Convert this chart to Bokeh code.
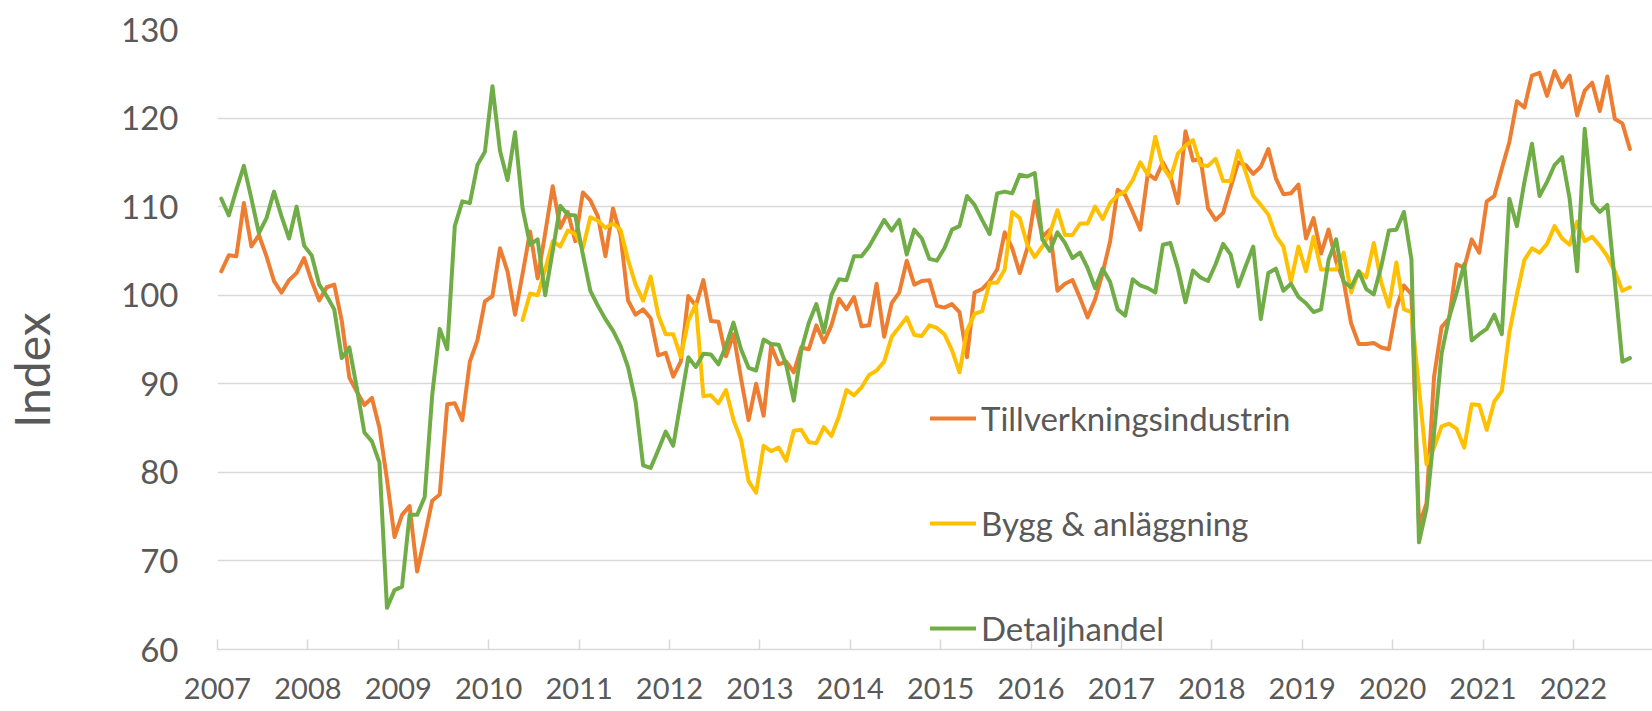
from math import nan
from bokeh.plotting import figure
from bokeh.models import FixedTicker, Legend, LegendItem, Range1d
from bokeh.embed import file_html
from bokeh.resources import INLINE

# Tick labels (one per January, 2007..2022)
years = [str(y) for y in range(2007, 2023)]
y_ticks = [60, 70, 80, 90, 100, 110, 120, 130]

# Monthly index values, Jan 2007 .. Aug 2022
tillverkning = [
    102.7, 104.5, 104.4, 110.4, 105.5, 106.8, 104.4, 101.6, 100.3, 101.7, 102.5, 104.2,
    101.6, 99.4, 100.9, 101.2, 97.1, 90.7, 89.1, 87.6, 88.4, 85.0, 79.2, 72.7,
    75.2, 76.2, 68.8, 72.7, 76.8, 77.5, 87.7, 87.8, 85.9, 92.5, 94.9, 99.3,
    99.9, 105.3, 102.7, 97.8, 102.4, 107.2, 101.9, 107.0, 112.3, 107.6, 109.4, 106.1,
    111.6, 110.7, 108.9, 104.4, 109.8, 106.8, 99.4, 97.8, 98.4, 97.4, 93.2, 93.5,
    90.8, 92.5, 99.9, 98.8, 101.7, 97.1, 97.0, 93.1, 95.6, 90.6, 85.9, 90.0,
    86.4, 94.3, 92.2, 92.5, 91.3, 94.1, 93.9, 96.6, 94.7, 96.6, 99.6, 98.4,
    99.8, 96.5, 96.6, 101.3, 95.3, 99.1, 100.3, 103.9, 101.2, 101.6, 101.7, 98.8,
    98.6, 99.0, 98.1, 93.0, 100.3, 100.7, 101.6, 102.9, 107.1, 105.3, 102.5, 105.3,
    110.6, 106.6, 107.4, 100.5, 101.3, 101.7, 99.7, 97.5, 99.5, 102.5, 106.1, 111.9,
    111.3, 109.4, 107.4, 113.7, 113.1, 115.0, 113.4, 110.4, 118.5, 115.2, 115.4, 109.8,
    108.5, 109.3, 112.2, 115.0, 114.7, 113.7, 114.5, 116.5, 113.2, 111.4, 111.5, 112.5,
    106.4, 108.7, 104.7, 107.4, 103.8, 101.6, 96.8, 94.5, 94.5, 94.6, 94.1, 93.9,
    98.6, 101.1, 100.1, 74.0, 76.5, 90.8, 96.4, 97.4, 103.5, 103.1, 106.3, 104.8,
    110.6, 111.2, 114.3, 117.3, 121.9, 121.2, 124.8, 125.1, 122.5, 125.3, 123.5, 124.8,
    120.3, 123.1, 124.0, 120.8, 124.7, 119.9, 119.4, 116.5,
]

bygg = [None] * 40 + [
    97.2, 100.2, 100.0, 102.9, 106.1, 105.5, 107.3, 106.9,
    105.3, 108.8, 108.4, 107.6, 108.1, 107.4, 104.0, 101.2, 99.4, 102.1, 97.8, 95.6,
    95.6, 93.0, 97.1, 99.0, 88.6, 88.7, 87.8, 89.3, 85.9, 83.7, 79.0, 77.7,
    83.0, 82.4, 82.8, 81.3, 84.7, 84.8, 83.4, 83.3, 85.1, 84.1, 86.3, 89.3,
    88.7, 89.6, 91.0, 91.5, 92.5, 95.3, 96.4, 97.5, 95.5, 95.4, 96.6, 96.3,
    95.6, 93.8, 91.3, 96.0, 97.9, 98.2, 101.4, 101.4, 102.9, 109.4, 108.7, 105.7,
    104.3, 105.5, 107.0, 109.6, 106.8, 106.8, 108.1, 108.1, 110.0, 108.6, 110.4, 111.3,
    111.7, 113.0, 115.0, 113.6, 117.9, 114.5, 113.2, 116.0, 116.9, 117.5, 114.7, 114.6,
    115.4, 112.9, 112.9, 116.3, 113.9, 111.2, 110.2, 109.1, 106.7, 105.5, 101.5, 105.5,
    102.7, 106.6, 102.9, 102.9, 102.9, 104.8, 100.3, 102.7, 102.0, 105.9, 101.4, 98.7,
    103.7, 98.4, 98.1, 89.5, 80.9, 82.8, 85.2, 85.5, 84.9, 82.8, 87.7, 87.6,
    84.8, 88.0, 89.2, 95.8, 100.1, 104.0, 105.3, 104.8, 105.8, 107.8, 106.4, 105.7,
    108.3, 106.1, 106.6, 105.6, 104.4, 102.7, 100.5, 100.9,
]

detaljhandel = [
    110.9, 109.0, 111.9, 114.6, 110.9, 107.0, 108.7, 111.7, 108.9, 106.4, 110.0, 105.6,
    104.5, 101.2, 99.9, 98.4, 92.9, 94.1, 89.5, 84.5, 83.5, 81.1, 64.7, 66.7,
    67.1, 75.2, 75.2, 77.2, 88.7, 96.2, 93.9, 107.8, 110.6, 110.4, 114.7, 116.2,
    123.6, 116.3, 113.0, 118.4, 109.8, 105.7, 106.3, 100.0, 105.0, 110.1, 109.1, 109.0,
    104.6, 100.5, 98.8, 97.3, 96.0, 94.3, 91.9, 88.0, 80.8, 80.5, 82.5, 84.6,
    83.0, 88.0, 93.0, 91.9, 93.4, 93.3, 92.2, 94.3, 96.9, 93.9, 91.8, 91.5,
    95.0, 94.5, 94.4, 92.1, 88.1, 93.8, 96.9, 99.0, 95.8, 100.0, 101.8, 101.7,
    104.4, 104.4, 105.5, 107.0, 108.5, 107.3, 108.5, 104.6, 107.4, 106.4, 104.1, 103.9,
    105.3, 107.4, 107.8, 111.2, 110.2, 108.5, 106.9, 111.5, 111.7, 111.5, 113.6, 113.4,
    113.8, 106.3, 105.0, 107.1, 105.9, 104.2, 104.8, 103.1, 100.8, 103.0, 101.5, 98.4,
    97.7, 101.8, 101.1, 100.8, 100.3, 105.7, 105.9, 103.0, 99.2, 102.8, 102.0, 101.6,
    103.5, 105.8, 104.6, 101.0, 103.3, 105.5, 97.3, 102.5, 103.0, 100.5, 101.3, 99.8,
    99.1, 98.1, 98.4, 104.0, 106.3, 101.5, 100.9, 102.7, 100.7, 100.1, 103.3, 107.3,
    107.4, 109.4, 104.0, 72.1, 75.9, 84.4, 93.4, 97.5, 100.3, 103.5, 94.9, 95.6,
    96.2, 97.8, 95.6, 110.9, 107.8, 112.8, 117.1, 111.2, 112.8, 114.7, 115.6, 110.9,
    102.7, 118.8, 110.4, 109.4, 110.2, 101.5, 92.5, 92.9,
]

names = ["Tillverkningsindustrin", "Bygg & anläggning", "Detaljhandel"]
colors = ["#ED7D31", "#FFC000", "#70AD47"]
y_title = "Index"

TEXT = "#595959"
GRID = "#D9D9D9"
FONT = "Lato"

n = len(tillverkning)
months = [i + 0.5 for i in range(n)]
series = [
    tillverkning,
    [nan if v is None else v for v in bygg],
    detaljhandel,
]

p = figure(
    width=1652, height=711,
    x_range=Range1d(0, 190.5), y_range=Range1d(60, 130),
    output_backend="svg", toolbar_location=None,
    min_border_left=217, min_border_right=0,
    min_border_top=29, min_border_bottom=62,
)
p.outline_line_color = None
p.background_fill_color = "white"
p.border_fill_color = "white"

renderers = []
for vals, col in zip(series, colors):
    r = p.line(months, vals, line_color=col, line_width=4,
               line_join="round", line_cap="round")
    renderers.append(r)

# y axis
p.yaxis.ticker = FixedTicker(ticks=y_ticks)
p.yaxis.axis_line_color = None
p.yaxis.major_tick_line_color = None
p.yaxis.minor_tick_line_color = None
p.yaxis.major_tick_in = 0
p.yaxis.major_tick_out = 0
p.yaxis.major_label_standoff = 39
p.yaxis.major_label_text_font = FONT
p.yaxis.major_label_text_font_size = "33px"
p.yaxis.major_label_text_color = TEXT
# trailing no-break spaces shift the centred title a little downwards
p.yaxis.axis_label = y_title + "\u00a0" * 5
p.yaxis.axis_label_standoff = 58
p.yaxis.axis_label_text_font = FONT
p.yaxis.axis_label_text_font_size = "48px"
p.yaxis.axis_label_text_font_style = "normal"
p.yaxis.axis_label_text_color = TEXT

# x axis
x_ticks = [12 * i for i in range(len(years))]
p.xaxis.ticker = FixedTicker(ticks=x_ticks)
p.xaxis.major_label_overrides = {t: y for t, y in zip(x_ticks, years)}
p.xaxis.axis_line_color = GRID
p.xaxis.axis_line_width = 1.5
p.xaxis.major_tick_line_color = GRID
p.xaxis.major_tick_line_width = 1.5
p.xaxis.minor_tick_line_color = None
p.xaxis.major_tick_in = 10
p.xaxis.major_tick_out = 0
p.xaxis.major_label_standoff = 28
p.xaxis.major_label_text_font = FONT
p.xaxis.major_label_text_font_size = "29px"
p.xaxis.major_label_text_color = TEXT

p.xgrid.visible = False
p.ygrid.ticker = FixedTicker(ticks=y_ticks)
p.ygrid.grid_line_color = GRID
p.ygrid.grid_line_width = 1.5

legend = Legend(
    items=[LegendItem(label=nm, renderers=[r]) for nm, r in zip(names, renderers)],
    location=(713, 1),
    orientation="vertical",
    padding=0, margin=0, spacing=65,
    glyph_width=46, glyph_height=40, label_height=40, label_standoff=5,
    border_line_alpha=0, background_fill_alpha=0,
    label_text_font=FONT, label_text_font_size="33px", label_text_color=TEXT,
)
p.add_layout(legend)

open("out.html", "w").write(file_html(p, INLINE))
